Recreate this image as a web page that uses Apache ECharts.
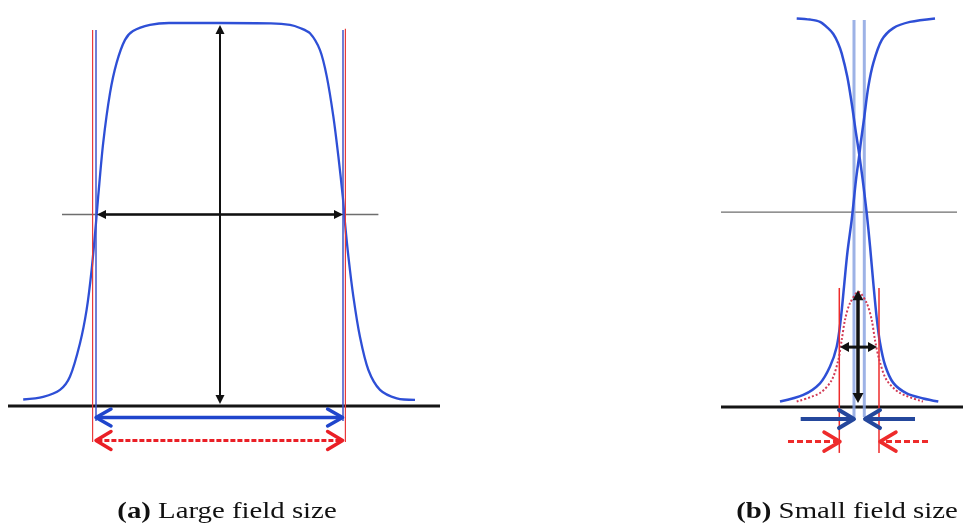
<!DOCTYPE html>
<html><head><meta charset="utf-8">
<script src="https://cdn.jsdelivr.net/npm/echarts@6/dist/echarts.min.js"></script>
<style>html,body{margin:0;padding:0;background:#fff}#chart{width:963px;height:531px}</style>
</head><body><div id="chart"></div>
<script>
// ---------- (a) Large field size ----------
const largeProfileX = [-9.79,-8.79,-7.95,-7.45,-6.95,-6.62,-6.37,-6.15,-6.04,-5.79,-5.45,-5.12,-4.7,-4.3,-3.45,-2.5,0,2.6,3.55,4.05,4.55,5.05,5.39,5.72,5.97,6.19,6.3,6.47,6.72,7.05,7.47,8.05,8.89,9.8];
const largeProfileY = [0.017,0.024,0.042,0.077,0.164,0.251,0.355,0.478,0.547,0.687,0.817,0.896,0.956,0.979,0.995,1.0,1.0,0.999,0.995,0.987,0.973,0.929,0.86,0.755,0.651,0.546,0.478,0.39,0.285,0.18,0.094,0.042,0.02,0.016];
const largeBaseline = [[-10.55, 0, 11.05, 0]];
const largeHalfLevel = [[-7.85, 0.5, 7.97, 0.5]];
const largeBlueEdges = [[-6.15, 0.982, -6.15, -0.039], [6.2, 0.982, 6.2, -0.039]];
const largeRedEdges = [[-6.32, 0.982, -6.32, -0.094], [6.32, 0.985, 6.32, -0.094]];
const largeFwhmArrow = [[-6.1, 0.5, 6.2, 0.5]];
const largeMaxArrow = [[0.05, 0.995, 0.05, 0.005]];
const largeBlueWidthArrow = [[-6.15, -0.03, 6.18, -0.03]];
const largeRedWidthArrow = [[-6.15, -0.09, 6.18, -0.09]];

// ---------- (b) Small field size ----------
const penumbraAX = [-6.23,-4.9,-3.9,-3.1,-2.57,-2.1,-1.73,-1.17,-0.73,-0.3,0.03,0.37,0.77,1.1,1.43,1.77,2.1,2.6,3.43,4.77,6.43,7.93];
const penumbraAY = [0.999,0.996,0.990,0.974,0.959,0.936,0.909,0.849,0.781,0.704,0.648,0.584,0.499,0.414,0.319,0.229,0.165,0.108,0.062,0.035,0.022,0.014];
const penumbraBX = [-7.9,-5.57,-3.9,-2.9,-2.23,-1.83,-1.5,-1.17,-0.73,-0.57,-0.3,0.03,0.17,0.53,0.93,1.43,2.27,3.43,5.1,7.6];
const penumbraBY = [0.014,0.031,0.061,0.104,0.155,0.224,0.309,0.395,0.481,0.519,0.584,0.648,0.678,0.746,0.823,0.884,0.943,0.974,0.990,0.999];
const smallProfileX = [-6.23,-3.9,-2.73,-2.07,-1.73,-1.4,-0.9,-0.05,0.77,1.27,1.6,2.03,2.77,4.1,6.4];
const smallProfileY = [0.014,0.036,0.069,0.121,0.172,0.224,0.267,0.296,0.267,0.224,0.172,0.121,0.069,0.036,0.014];
const smallBaseline = [[-13.8, 0, 10.4, 0]];
const smallHalfLevel = [[-13.8, 0.501, 9.8, 0.501]];
const smallCollimatorEdges = [[-0.5, 0.995, -0.5, -0.026], [0.53, 0.995, 0.53, -0.026]];
const smallRedEdges = [[-1.97, 0.306, -1.97, -0.118], [2.0, 0.306, 2.0, -0.118]];
const smallMaxArrow = [[-0.1, 0.3, -0.1, 0.01]];
const smallFwhmArrow = [[-1.9, 0.154, 1.8, 0.154]];
const smallBlueArrows = [[-5.83, -0.031, -0.5, -0.031], [5.6, -0.031, 0.6, -0.031]];
const smallRedArrows = [[-7.1, -0.089, -1.9, -0.089], [6.9, -0.089, 2.1, -0.089]];

const captions = ['(a)', ' Large field size', '(b)', ' Small field size'];

function zip(xs, ys) { return xs.map((x, i) => [x, ys[i]]); }

function head(tip, from, len, hw, kind, color, lw) {
  const dx = tip[0] - from[0], dy = tip[1] - from[1];
  const L = Math.hypot(dx, dy) || 1;
  const ux = dx / L, uy = dy / L;
  const bx = tip[0] - ux * len, by = tip[1] - uy * len;
  const nx = -uy, ny = ux;
  const pts = [[bx + nx * hw, by + ny * hw], [tip[0], tip[1]], [bx - nx * hw, by - ny * hw]];
  if (kind === 'filled') return { type: 'polygon', shape: { points: pts }, style: { fill: color } };
  return { type: 'polyline', shape: { points: pts }, style: { stroke: color, lineWidth: lw, fill: null, lineJoin: 'round', lineCap: 'round' } };
}

function segSeries(gi, rows, o) {
  return {
    type: 'custom', xAxisIndex: gi, yAxisIndex: gi, silent: true, z: o.z || 3,
    data: rows,
    renderItem: function (params, api) {
      const p1 = api.coord([api.value(0), api.value(1)]);
      const p2 = api.coord([api.value(2), api.value(3)]);
      let a = p1.slice(), b = p2.slice();
      const dx = p2[0] - p1[0], dy = p2[1] - p1[1], L = Math.hypot(dx, dy) || 1;
      const sh = o.kind === 'filled' ? o.len * 0.7 : (o.kind === 'chevron' ? o.lw * 0.4 : 0);
      if (o.heads === 'both' || o.heads === 'start') { a = [p1[0] + dx / L * sh, p1[1] + dy / L * sh]; }
      if (o.heads === 'both' || o.heads === 'end') { b = [p2[0] - dx / L * sh, p2[1] - dy / L * sh]; }
      const ch = [{ type: 'line', shape: { x1: a[0], y1: a[1], x2: b[0], y2: b[1] },
        style: { stroke: o.color, lineWidth: o.width, lineDash: o.dash || null, lineCap: 'butt', opacity: o.opacity == null ? 1 : o.opacity } }];
      if (o.heads === 'both' || o.heads === 'start') ch.push(head(p1, p2, o.len, o.hw, o.kind, o.color, o.lw));
      if (o.heads === 'both' || o.heads === 'end') ch.push(head(p2, p1, o.len, o.hw, o.kind, o.color, o.lw));
      return { type: 'group', children: ch };
    }
  };
}

const blue = '#2e4fd6';
const serif = 'Liberation Serif, Times New Roman, serif';

function curve(gi, xs, ys, ls, z) {
  return { type: 'line', xAxisIndex: gi, yAxisIndex: gi, data: zip(xs, ys), smooth: 0.3,
    showSymbol: false, clip: false, lineStyle: ls, z: z, silent: true };
}

const option = {
  animation: false,
  backgroundColor: '#ffffff',
  grid: [
    { left: 9, top: 23, width: 432, height: 440.45 },
    { left: 719, top: 18, width: 244, height: 447.35 }
  ],
  xAxis: [
    { type: 'value', gridIndex: 0, min: -10.5, max: 11.1, show: false },
    { type: 'value', gridIndex: 1, min: -14, max: 10.4, show: false }
  ],
  yAxis: [
    { type: 'value', gridIndex: 0, min: -0.15, max: 1.0, show: false },
    { type: 'value', gridIndex: 1, min: -0.15, max: 1.0, show: false }
  ],
  series: [
    segSeries(0, largeHalfLevel, { color: '#6e6e6e', width: 1.3, z: 1 }),
    segSeries(0, largeBaseline, { color: '#151515', width: 3, z: 1 }),
    curve(0, largeProfileX, largeProfileY, { color: blue, width: 2.3 }, 2),
    segSeries(0, largeRedEdges, { color: '#e83a3a', width: 1.2, z: 3 }),
    segSeries(0, largeBlueEdges, { color: '#3f55c8', width: 1.5, z: 3 }),
    segSeries(0, largeFwhmArrow, { color: '#111', width: 2.6, heads: 'both', kind: 'filled', len: 9, hw: 4.5, z: 4 }),
    segSeries(0, largeMaxArrow, { color: '#111', width: 2, heads: 'both', kind: 'filled', len: 9, hw: 4.5, z: 4 }),
    segSeries(0, largeBlueWidthArrow, { color: '#1f45cc', width: 3.5, heads: 'both', kind: 'chevron', len: 15, hw: 8.5, lw: 3.5, z: 4 }),
    segSeries(0, largeRedWidthArrow, { color: '#ea1f26', width: 3, dash: [5, 2], heads: 'both', kind: 'chevron', len: 15, hw: 9, lw: 3.5, z: 4 }),

    segSeries(1, smallHalfLevel, { color: '#6e6e6e', width: 1.3, z: 1 }),
    segSeries(1, smallBaseline, { color: '#151515', width: 3, z: 1 }),
    segSeries(1, smallCollimatorEdges, { color: '#8ca4e2', width: 3, opacity: 0.85, z: 1 }),
    curve(1, penumbraAX, penumbraAY, { color: blue, width: 2.5 }, 2),
    curve(1, penumbraBX, penumbraBY, { color: blue, width: 2.5 }, 2),
    curve(1, smallProfileX, smallProfileY, { color: '#d23a55', width: 2, type: [2, 2] }, 3),
    segSeries(1, smallRedEdges, { color: '#ee2b2b', width: 1.5, z: 3 }),
    segSeries(1, smallMaxArrow, { color: '#111', width: 3.5, heads: 'both', kind: 'filled', len: 10, hw: 5.5, z: 4 }),
    segSeries(1, smallFwhmArrow, { color: '#111', width: 3, heads: 'both', kind: 'filled', len: 9, hw: 5, z: 4 }),
    segSeries(1, smallBlueArrows, { color: '#24479c', width: 4, heads: 'end', kind: 'chevron', len: 15, hw: 9, lw: 4, z: 4 }),
    segSeries(1, smallRedArrows, { color: '#ee2b2b', width: 3, dash: [6, 3], heads: 'end', kind: 'chevron', len: 16, hw: 9.5, lw: 3.5, z: 4 })
  ],
  graphic: [
    { type: 'text', x: 227, y: 512, scaleX: 1.2, silent: true,
      style: { text: '{b|' + captions[0] + '}' + captions[1], fontFamily: serif, fontSize: 24, fill: '#111', align: 'center', verticalAlign: 'middle',
        rich: { b: { fontFamily: serif, fontSize: 24, fontWeight: 'bold', fill: '#111' } } } },
    { type: 'text', x: 847, y: 512, scaleX: 1.2, silent: true,
      style: { text: '{b|' + captions[2] + '}' + captions[3], fontFamily: serif, fontSize: 24, fill: '#111', align: 'center', verticalAlign: 'middle',
        rich: { b: { fontFamily: serif, fontSize: 24, fontWeight: 'bold', fill: '#111' } } } }
  ]
};

const chart = echarts.init(document.getElementById('chart'), null, { renderer: 'canvas' });
chart.setOption(option);
</script>
</body></html>
